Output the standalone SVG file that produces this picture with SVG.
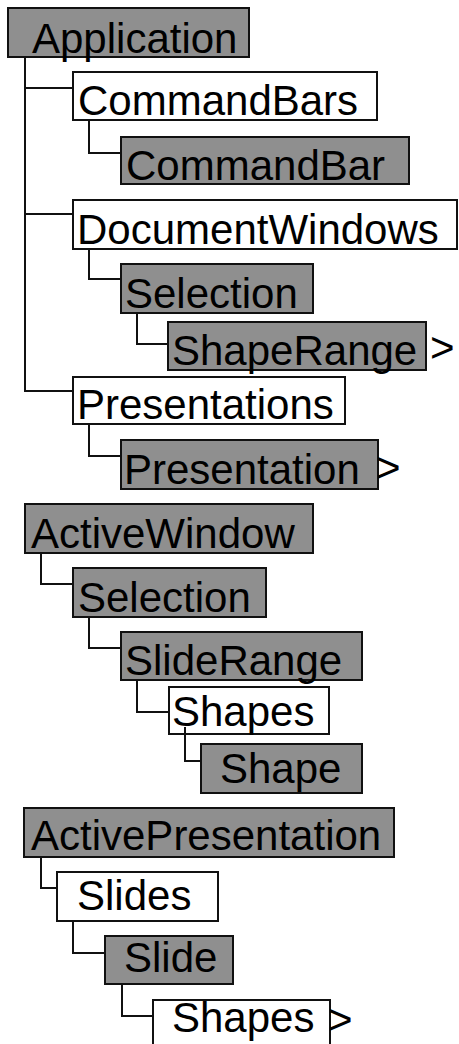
<svg xmlns="http://www.w3.org/2000/svg" width="459" height="1044" viewBox="0 0 459 1044">
<style>
.g{fill:#8f8f8f;stroke:#111;stroke-width:2}
.w{fill:#fff;stroke:#111;stroke-width:2}
text{font-family:"Liberation Sans",Arial,sans-serif;font-size:42px;fill:#000}
.c{fill:none;stroke:#111;stroke-width:2}
</style>
<rect width="459" height="1044" fill="#fff"/>
<g id="n-application"><rect class="g" x="8" y="8" width="241" height="49"/><text x="32" y="53">Application</text></g>
<g id="n-commandbars"><rect class="w" x="73" y="72" width="304" height="48"/><text x="78" y="115">CommandBars</text></g>
<g id="n-commandbar"><rect class="g" x="121" y="137" width="288" height="47"/><text x="126" y="180">CommandBar</text></g>
<g id="n-documentwindows"><rect class="w" x="73" y="200" width="384" height="49"/><text x="77" y="244">DocumentWindows</text></g>
<g id="n-selection1"><rect class="g" x="121" y="264" width="192" height="49"/><text x="125" y="308">Selection</text></g>
<g id="n-shaperange"><rect class="g" x="168" y="322" width="258" height="48"/><text x="172" y="365">ShapeRange</text><text x="430" y="362">&gt;</text></g>
<g id="n-presentations"><rect class="w" x="73" y="377" width="272" height="47"/><text x="77" y="419">Presentations</text></g>
<g id="n-presentation"><rect class="g" x="121" y="440" width="257" height="49"/><text x="124" y="484">Presentation</text><text x="376" y="482">&gt;</text></g>
<g id="n-activewindow"><rect class="g" x="25" y="504" width="288" height="49"/><text x="31" y="548">ActiveWindow</text></g>
<g id="n-selection2"><rect class="g" x="73" y="568" width="193" height="49"/><text x="78" y="612">Selection</text></g>
<g id="n-sliderange"><rect class="g" x="121" y="632" width="241" height="48"/><text x="125" y="675">SlideRange</text></g>
<g id="n-shapes1"><rect class="w" x="169" y="687" width="160" height="47"/><text x="172" y="726">Shapes</text></g>
<g id="n-shape"><rect class="g" x="201" y="744" width="161" height="49"/><text x="220" y="783">Shape</text></g>
<g id="n-activepresentation"><rect class="g" x="24" y="808" width="370" height="49"/><text x="31" y="850">ActivePresentation</text></g>
<g id="n-slides"><rect class="w" x="57" y="872" width="161" height="49"/><text x="77" y="910">Slides</text></g>
<g id="n-slide"><rect class="g" x="105" y="936" width="128" height="48"/><text x="124" y="972">Slide</text></g>
<g id="n-shapes2"><rect class="w" x="153" y="1000" width="177" height="60"/><text x="172" y="1032">Shapes</text><text x="328" y="1034">&gt;</text></g>
<g id="connectors">
<path class="c" d="M25 57V391H73M25 88H73M25 214H73"/>
<path class="c" d="M89 120V153H121"/>
<path class="c" d="M89 249V279H121"/>
<path class="c" d="M137 313V344H168"/>
<path class="c" d="M89 424V456H121"/>
<path class="c" d="M41 553V584H73"/>
<path class="c" d="M89 617V648H121"/>
<path class="c" d="M137 680V712H169"/>
<path class="c" d="M185 727V761H201"/>
<path class="c" d="M41 857V888H57"/>
<path class="c" d="M73 921V953H105"/>
<path class="c" d="M122 984V1016H153"/>
</g>
</svg>
